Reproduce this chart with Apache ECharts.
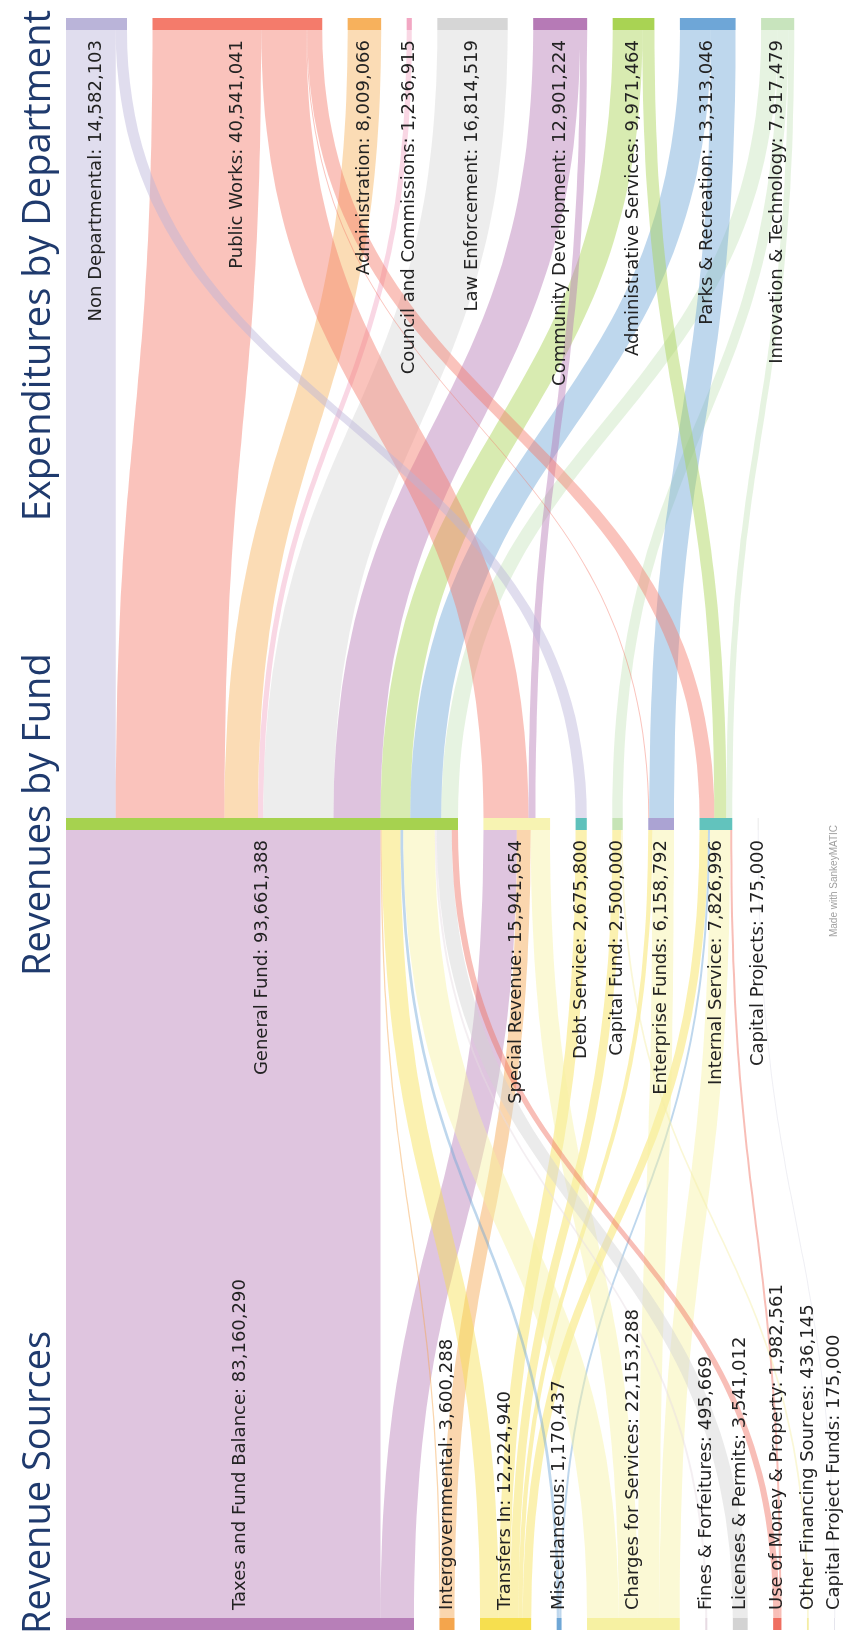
<!DOCTYPE html>
<html>
<head>
<meta charset="utf-8">
<title>Revenues and Expenditures</title>
<script src="https://cdn.jsdelivr.net/npm/echarts@6/dist/echarts.min.js"></script>
<style>
  html, body { margin: 0; padding: 0; background: #ffffff; overflow: hidden; width: 850px; height: 1638px; }
  /* the diagram is laid out left-to-right and then turned a quarter turn counter-clockwise */
  #chart { position: absolute; left: 0; top: 0; width: 1638px; height: 850px;
           transform-origin: 0 0; transform: translate(0, 1638px) rotate(-90deg); }
</style>
</head>
<body>
<div id="chart"></div>
<script>
// ---- column titles ----
const columnTitles = ['Revenue Sources', 'Revenues by Fund', 'Expenditures by Department'];

// ---- revenue sources ----
const sourceNames = [
  'Taxes and Fund Balance', 'Intergovernmental', 'Transfers In', 'Miscellaneous',
  'Charges for Services', 'Fines & Forfeitures', 'Licenses & Permits',
  'Use of Money & Property', 'Other Financing Sources', 'Capital Project Funds'
];
const sourceValues = [83160290, 3600288, 12224940, 1170437, 22153288, 495669, 3541012, 1982561, 436145, 175000];

// ---- funds ----
const fundNames = [
  'General Fund', 'Special Revenue', 'Debt Service', 'Capital Fund',
  'Enterprise Funds', 'Internal Service', 'Capital Projects'
];
const fundValues = [93661388, 15941654, 2675800, 2500000, 6158792, 7826996, 175000];

// ---- departments ----
const deptNames = [
  'Non Departmental', 'Public Works', 'Administration', 'Council and Commissions',
  'Law Enforcement', 'Community Development', 'Administrative Services',
  'Parks & Recreation', 'Innovation & Technology'
];
const deptValues = [14582103, 40541041, 8009066, 1236915, 16814519, 12901224, 9971464, 13313046, 7917479];

// ---- flows: source -> fund ----
const sourceToFund = [
  ['Taxes and Fund Balance', 'General Fund', 75160290],
  ['Taxes and Fund Balance', 'Special Revenue', 8000000],
  ['Intergovernmental', 'General Fund', 300000],
  ['Intergovernmental', 'Special Revenue', 3300288],
  ['Transfers In', 'General Fund', 4485285],
  ['Transfers In', 'Debt Service', 2675800],
  ['Transfers In', 'Capital Fund', 2063855],
  ['Transfers In', 'Enterprise Funds', 1000000],
  ['Transfers In', 'Internal Service', 2000000],
  ['Miscellaneous', 'General Fund', 670437],
  ['Miscellaneous', 'Internal Service', 500000],
  ['Charges for Services', 'General Fund', 7526134],
  ['Charges for Services', 'Special Revenue', 4641366],
  ['Charges for Services', 'Enterprise Funds', 5158792],
  ['Charges for Services', 'Internal Service', 4826996],
  ['Fines & Forfeitures', 'General Fund', 495669],
  ['Licenses & Permits', 'General Fund', 3541012],
  ['Use of Money & Property', 'General Fund', 1482561],
  ['Use of Money & Property', 'Internal Service', 500000],
  ['Other Financing Sources', 'Capital Fund', 436145],
  ['Capital Project Funds', 'Capital Projects', 175000]
];

// ---- flows: fund -> department ----
const fundToDept = [
  ['General Fund', 'Non Departmental', 11906303],
  ['General Fund', 'Public Works', 25994585],
  ['General Fund', 'Administration', 8009066],
  ['General Fund', 'Council and Commissions', 1236915],
  ['General Fund', 'Law Enforcement', 16814519],
  ['General Fund', 'Community Development', 11200000],
  ['General Fund', 'Administrative Services', 7100000],
  ['General Fund', 'Parks & Recreation', 7400000],
  ['General Fund', 'Innovation & Technology', 4000000],
  ['Special Revenue', 'Public Works', 10762657],
  ['Special Revenue', 'Community Development', 1701224],
  ['Debt Service', 'Non Departmental', 2675800],
  ['Capital Fund', 'Innovation & Technology', 2500000],
  ['Enterprise Funds', 'Public Works', 245746],
  ['Enterprise Funds', 'Parks & Recreation', 5913046],
  ['Internal Service', 'Public Works', 3538053],
  ['Internal Service', 'Administrative Services', 2871464],
  ['Internal Service', 'Innovation & Technology', 1417479]
];

// ---- palette ----
const sourceColors = ['#b77fb8', '#f4a54c', '#f6df4f', '#6fa7d6', '#f6f1a2', '#e7dbe3', '#d3d3d3', '#ef6e60', '#f4eda4', '#dcdce6'];
const fundColors = ['#a6d24f', '#f7f3b2', '#5fc1bb', '#c6e4b6', '#aba3d3', '#62c3bd', '#e0e0e0'];
const deptColors = ['#bab4d9', '#f47b6b', '#f7b15c', '#f2a7c3', '#d6d6d6', '#b67ab6', '#a9d353', '#6ea6d7', '#c8e4bd'];

const LABEL_FONT = 'DejaVu Sans';
const TITLE_FONT = '"Open Sans", Lato, sans-serif';

const fmt = v => v.toLocaleString('en-US');
const colorOf = {};
const valueOf = {};
sourceNames.forEach((n, i) => { colorOf[n] = sourceColors[i]; valueOf[n] = sourceValues[i]; });
fundNames.forEach((n, i) => { colorOf[n] = fundColors[i]; valueOf[n] = fundValues[i]; });
deptNames.forEach((n, i) => { colorOf[n] = deptColors[i]; valueOf[n] = deptValues[i]; });

function makeNode(name, side, distance) {
  return {
    name: name,
    value: valueOf[name],
    itemStyle: { color: colorOf[name], borderWidth: 0 },
    label: { position: side, distance: distance }
  };
}

const nodes = []
  .concat(sourceNames.map(n => makeNode(n, 'right', 8)))
  .concat(fundNames.map(n => makeNode(n, 'left', 10)))
  .concat(deptNames.map(n => makeNode(n, 'left', 10)));

// lower flows take the colour of the revenue source, upper flows the colour of the department
const links = []
  .concat(sourceToFund.map(([s, t, v]) => ({ source: s, target: t, value: v, lineStyle: { color: colorOf[s] } })))
  .concat(fundToDept.map(([s, t, v]) => ({ source: s, target: t, value: v, lineStyle: { color: colorOf[t] } })));

const chart = echarts.init(document.getElementById('chart'), null, { renderer: 'canvas' });

const titleStyle = { fontFamily: TITLE_FONT, fontSize: 38, fontWeight: 'normal', color: '#1f3a6d' };

chart.setOption({
  animation: false,
  backgroundColor: '#ffffff',
  title: [
    { text: columnTitles[0], left: 4, top: 20, padding: 0, textStyle: titleStyle },
    { text: columnTitles[1], left: 662, top: 20, padding: 0, textStyle: titleStyle },
    { text: columnTitles[2], right: 10, top: 20, padding: 0, textStyle: titleStyle }
  ],
  graphic: [{
    type: 'text',
    right: 825,
    top: 829,
    style: { text: 'Made with SankeyMATIC', fill: '#a0a0a0', font: '10px "Liberation Sans", Arial, sans-serif' }
  }],
  series: [{
    type: 'sankey',
    left: 8,
    top: 66,
    width: 1612,
    height: 769,
    nodeWidth: 12,
    nodeGap: 25.5,
    nodeAlign: 'left',
    layoutIterations: 0,
    draggable: false,
    emphasis: { disabled: true },
    data: nodes,
    links: links,
    itemStyle: { borderWidth: 0 },
    lineStyle: { opacity: 0.45, curveness: 0.5 },
    label: {
      color: '#222222',
      fontFamily: LABEL_FONT,
      fontSize: 18,
      formatter: p => p.name + ': ' + fmt(valueOf[p.name])
    }
  }]
});
</script>
</body>
</html>
